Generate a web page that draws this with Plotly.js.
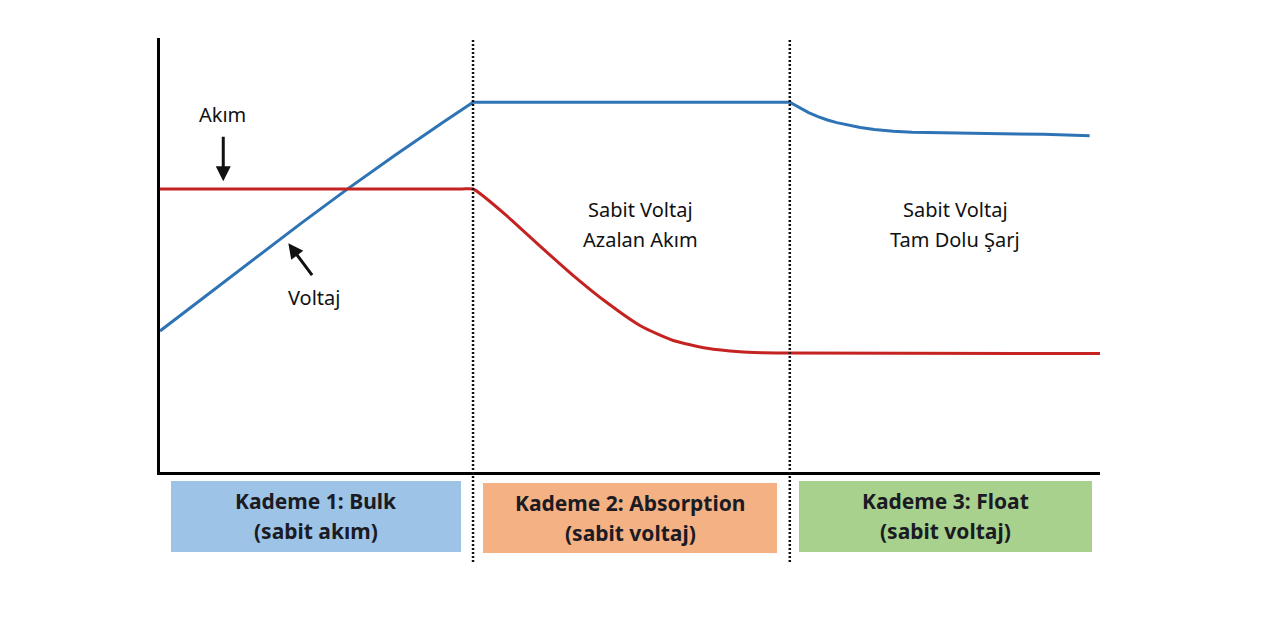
<!DOCTYPE html>
<html>
<head>
<meta charset="utf-8">
<script src="https://cdn.plot.ly/plotly-3.0.1.min.js"></script>
<style>html,body{margin:0;padding:0;background:#fff;}#chart{width:1261px;height:630px;}</style>
</head>
<body>
<div id="chart"></div>
<script>
// ---- data ----
const voltageTime  = [0, 5, 10, 15, 20, 25, 30, 33.3, 67, 67.5, 68, 68.5, 69, 70, 71, 72, 73, 74.5, 76, 78, 80, 83, 88, 94, 98.9];
const voltageValue = [32.5, 40.8, 49.1, 57.3, 65.3, 73.0, 80.4, 85.2, 85.2, 84.6, 83.9, 83.3, 82.8, 81.9, 81.1, 80.5, 80.0, 79.4, 78.9, 78.5, 78.3, 78.15, 78.0, 77.8, 77.5];

const currentTime  = [0, 32, 33.3, 36.9, 40.4, 44.0, 47.5, 51.1, 54.6, 58.2, 61.7, 64.0, 66.7, 100];
const currentValue = [65.2, 65.2, 65.2, 59.0, 52.1, 45.2, 39.1, 33.7, 30.3, 28.5, 27.7, 27.5, 27.4, 27.3];

const stageBounds    = [33.3, 67];
const stageTitles    = ['Kademe 1: Bulk', 'Kademe 2: Absorption', 'Kademe 3: Float'];
const stageSubtitles = ['(sabit akım)', '(sabit voltaj)', '(sabit voltaj)'];
const stageColors    = ['#9DC3E6', '#F4B183', '#A9D18E'];

const regionNotes = [
  {x: 51.1, lines: ['Sabit Voltaj', 'Azalan Akım']},
  {x: 84.6, lines: ['Sabit Voltaj', 'Tam Dolu Şarj']}
];

const xRange = [0, 100];
const yRange = [0, 100];

// ---- layout helpers ----
const FONT = 'Noto Sans, Open Sans, sans-serif';
const plotTop = 38, plotBottom = 472, plotH = plotBottom - plotTop;
const pyToPaper = py => (plotBottom - py) / plotH;
const xToPaper = x => (x - xRange[0]) / (xRange[1] - xRange[0]);

const traces = [
  {x: voltageTime, y: voltageValue, mode: 'lines', line: {color: '#2E74B5', width: 3, shape: 'linear'}, hoverinfo: 'skip', showlegend: false},
  {x: currentTime, y: currentValue, mode: 'lines', line: {color: '#C42321', width: 3, shape: 'spline', smoothing: 0.6}, hoverinfo: 'skip', showlegend: false}
];

const shapes = [];
stageBounds.forEach(b => {
  shapes.push({type: 'line', xref: 'paper', yref: 'paper', x0: xToPaper(b), x1: xToPaper(b),
    y0: pyToPaper(562), y1: 1, line: {color: '#111', width: 2.5, dash: '2px,2px'}, layer: 'above'});
});
const boxX = [[171, 461], [483, 777], [799, 1092]];
const boxY = [[481, 552], [483, 553], [481, 552]];
const textY = [[501, 531], [503, 533], [501, 531]];
const annotations = [];
stageTitles.forEach((t, i) => {
  shapes.push({type: 'rect', xref: 'paper', yref: 'paper',
    x0: (boxX[i][0] - 160) / 940, x1: (boxX[i][1] - 160) / 940,
    y0: pyToPaper(boxY[i][1]), y1: pyToPaper(boxY[i][0]),
    fillcolor: stageColors[i], line: {width: 0}, layer: 'below'});
  const cx = ((boxX[i][0] + boxX[i][1]) / 2 - 160) / 940;
  annotations.push({xref: 'paper', yref: 'paper', x: cx, y: pyToPaper(textY[i][0]), text: '<b>' + t + '</b>',
    showarrow: false, xanchor: 'center', yanchor: 'middle', font: {family: FONT, size: 21, color: '#1b1b24'}});
  annotations.push({xref: 'paper', yref: 'paper', x: cx, y: pyToPaper(textY[i][1]), text: '<b>' + stageSubtitles[i] + '</b>',
    showarrow: false, xanchor: 'center', yanchor: 'middle', font: {family: FONT, size: 21, color: '#1b1b24'}});
});

regionNotes.forEach(n => {
  annotations.push({xref: 'x', yref: 'y', x: n.x, y: (472 - 209) / 4.34, text: n.lines[0], showarrow: false,
    font: {family: FONT, size: 20, color: '#111'}});
  annotations.push({xref: 'x', yref: 'y', x: n.x, y: (472 - 239) / 4.34, text: n.lines[1], showarrow: false,
    font: {family: FONT, size: 20, color: '#111'}});
});

// labels with arrows
annotations.push({xref: 'x', yref: 'y', x: 6.7, y: 82.3, text: 'Akım', showarrow: false,
  font: {family: FONT, size: 20, color: '#111'}});
annotations.push({xref: 'x', yref: 'y', x: 6.73, y: 67.0, axref: 'x', ayref: 'y', ax: 6.73, ay: 77.6,
  text: '', showarrow: true, arrowhead: 2, arrowsize: 1, arrowwidth: 3, arrowcolor: '#111', standoff: 0});
annotations.push({xref: 'x', yref: 'y', x: 16.4, y: 40.3, text: 'Voltaj', showarrow: false,
  font: {family: FONT, size: 20, color: '#111'}});
annotations.push({xref: 'x', yref: 'y', x: 13.65, y: 52.7, axref: 'x', ayref: 'y', ax: 16.3, ay: 45.0,
  text: '', showarrow: true, arrowhead: 2, arrowsize: 1, arrowwidth: 3, arrowcolor: '#111', standoff: 0});

const layout = {
  width: 1261, height: 630,
  margin: {l: 160, r: 161, t: plotTop, b: 630 - plotBottom, pad: 0},
  paper_bgcolor: '#fff', plot_bgcolor: '#fff',
  xaxis: {range: xRange, showgrid: false, zeroline: false, showticklabels: false, ticks: '',
    showline: true, linecolor: '#000', linewidth: 3, fixedrange: true},
  yaxis: {range: yRange, showgrid: false, zeroline: false, showticklabels: false, ticks: '',
    showline: true, linecolor: '#000', linewidth: 3, fixedrange: true},
  shapes: shapes,
  annotations: annotations,
  showlegend: false
};

Plotly.newPlot('chart', traces, layout, {displayModeBar: false, staticPlot: true});
</script>
</body>
</html>
